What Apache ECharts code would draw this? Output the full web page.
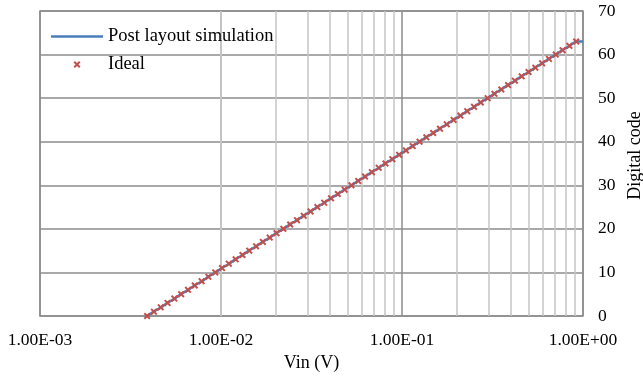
<!DOCTYPE html>
<html>
<head>
<meta charset="utf-8">
<script src="https://cdn.jsdelivr.net/npm/echarts@6/dist/echarts.min.js"></script>
<style>
  html, body { margin: 0; padding: 0; background: #fff; }
  #chart { width: 643px; height: 378px; }
</style>
</head>
<body>
<div id="chart"></div>
<script>
// digital output codes
const codes = [
  0, 1, 2, 3, 4, 5, 6, 7, 8, 9, 10, 11, 12, 13, 14, 15,
  16, 17, 18, 19, 20, 21, 22, 23, 24, 25, 26, 27, 28, 29, 30, 31,
  32, 33, 34, 35, 36, 37, 38, 39, 40, 41, 42, 43, 44, 45, 46, 47,
  48, 49, 50, 51, 52, 53, 54, 55, 56, 57, 58, 59, 60, 61, 62, 63
];

// ideal input voltage for each code (V)
const idealVin = [
  0.003906, 0.004260, 0.004645, 0.005066, 0.005524, 0.006024, 0.006570, 0.007164,
  0.007813, 0.008520, 0.009291, 0.01013, 0.01105, 0.01205, 0.01314, 0.01433,
  0.01563, 0.01704, 0.01858, 0.02026, 0.02210, 0.02410, 0.02628, 0.02866,
  0.03125, 0.03408, 0.03716, 0.04053, 0.04419, 0.04819, 0.05256, 0.05731,
  0.06250, 0.06816, 0.07433, 0.08105, 0.08839, 0.09639, 0.1051, 0.1146,
  0.1250, 0.1363, 0.1487, 0.1621, 0.1768, 0.1928, 0.2102, 0.2293,
  0.2500, 0.2726, 0.2973, 0.3242, 0.3536, 0.3856, 0.4204, 0.4585,
  0.5000, 0.5453, 0.5946, 0.6484, 0.7071, 0.7711, 0.8409, 0.9170
];

// post layout simulation (Vin, code)
const simVin = [
  0.00392, 0.00423, 0.00468, 0.00504, 0.00556, 0.00598, 0.00661, 0.00712,
  0.00789, 0.00848, 0.00935, 0.01008, 0.01112, 0.01197, 0.01318, 0.01421,
  0.01569, 0.01694, 0.01866, 0.02014, 0.02219, 0.02396, 0.02639, 0.02848,
  0.03138, 0.03387, 0.03731, 0.04028, 0.04438, 0.04791, 0.05277, 0.05695,
  0.06276, 0.06773, 0.07463, 0.08055, 0.08875, 0.09578, 0.1055, 0.1139,
  0.1255, 0.1355, 0.1493, 0.1611, 0.1775, 0.1916, 0.2111, 0.2278,
  0.2510, 0.2710, 0.2985, 0.3222, 0.3550, 0.3832, 0.4222, 0.4557,
  0.5021, 0.5418, 0.5970, 0.6444, 0.7100, 0.7664, 0.8443, 0.9114, 1.0
];
const simCode = codes.concat([63]);

const xTickLabels = ['1.00E-03', '1.00E-02', '1.00E-01', '1.00E+00'];
const yTicks = [0, 10, 20, 30, 40, 50, 60, 70];
const minorX = [
  0.002, 0.003, 0.004, 0.005, 0.006, 0.007, 0.008, 0.009,
  0.02, 0.03, 0.04, 0.05, 0.06, 0.07, 0.08, 0.09,
  0.2, 0.3, 0.4, 0.5, 0.6, 0.7, 0.8, 0.9
];

const font = 'Liberation Serif';
const majorGrid = '#8c8c8c';
const minorGrid = '#c4c4c4';
const blue = '#4a7ebb';
const red = '#c0504d';
const crossIcon = 'path://M0,2L2,0L5,3L8,0L10,2L7,5L10,8L8,10L5,7L2,10L0,8L3,5Z';
const lineIcon = 'path://M0,0L52,0L52,2.5L0,2.5Z';

const chart = echarts.init(document.getElementById('chart'));

chart.setOption({
  animation: false,
  grid: {
    left: 40,
    right: 60,
    top: 11,
    bottom: 62,
    outerBoundsMode: 'none',
    containLabel: false,
    show: true,
    borderColor: majorGrid,
    borderWidth: 1.5,
  },
  legend: {
    orient: 'vertical',
    left: 46,
    top: 22,
    itemWidth: 52,
    itemHeight: 7,
    itemGap: 9,
    data: [
      { name: 'Post layout simulation', icon: lineIcon },
      { name: 'Ideal', icon: crossIcon },
    ],
    textStyle: { fontFamily: font, fontSize: 18.5, color: '#000' },
  },
  xAxis: {
    type: 'log',
    logBase: 10,
    min: 0.001,
    max: 1,
    name: 'Vin (V)',
    nameLocation: 'middle',
    nameGap: 38,
    nameTextStyle: { fontFamily: font, fontSize: 18, color: '#000' },
    axisLine: { show: false },
    axisTick: { show: false },
    axisLabel: {
      margin: 15,
      showMinLabel: true,
      showMaxLabel: true,
      fontFamily: font,
      fontSize: 17.5,
      color: '#000',
      formatter: (v) => xTickLabels[Math.round(Math.log10(v)) + 3],
    },
    splitLine: { show: true, lineStyle: { color: majorGrid, width: 1.5 } },
  },
  yAxis: {
    type: 'value',
    position: 'right',
    min: yTicks[0],
    max: yTicks[yTicks.length - 1],
    interval: 10,
    name: 'Digital code',
    nameLocation: 'middle',
    nameRotate: 90,
    nameGap: 42,
    nameTextStyle: { fontFamily: font, fontSize: 18, color: '#000', padding: [0, 0, 0, 16] },
    axisLine: { show: false },
    axisTick: { show: false },
    axisLabel: {
      margin: 15,
      fontFamily: font,
      fontSize: 17.5,
      color: '#000',
    },
    splitLine: { show: true, lineStyle: { color: majorGrid, width: 1.5 } },
  },
  series: [
    {
      name: 'minor',
      type: 'line',
      data: [],
      silent: true,
      markLine: {
        silent: true,
        z: 1,
        symbol: ['none', 'none'],
        label: { show: false },
        lineStyle: { color: minorGrid, width: 1.5, type: 'solid' },
        emphasis: { disabled: true },
        data: minorX.map((v) => ({ xAxis: v })),
      },
    },
    {
      name: 'Post layout simulation',
      type: 'line',
      z: 3,
      showSymbol: false,
      symbol: 'none',
      data: simVin.map((v, i) => [v, simCode[i]]),
      itemStyle: { color: blue },
      lineStyle: { color: blue, width: 2.5 },
    },
    {
      name: 'Ideal',
      type: 'scatter',
      z: 4,
      symbol: crossIcon,
      symbolSize: 7,
      data: idealVin.map((v, i) => [v, codes[i]]),
      itemStyle: { color: red, opacity: 1 },
    },
  ],
});
</script>
</body>
</html>
